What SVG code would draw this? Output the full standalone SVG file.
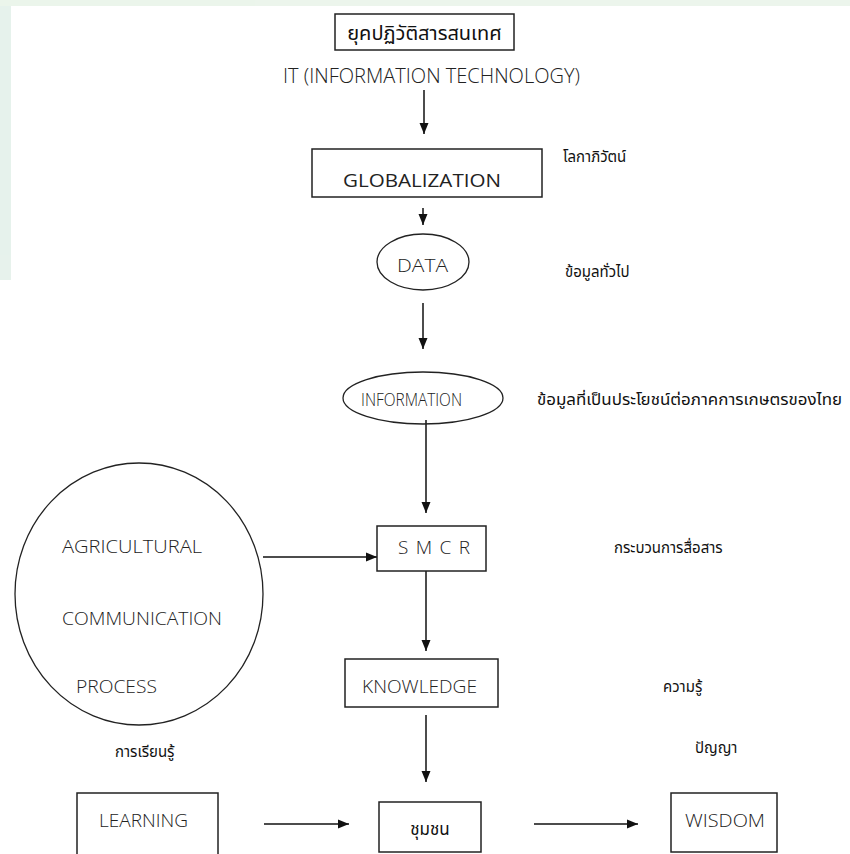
<svg xmlns="http://www.w3.org/2000/svg" width="850" height="854" viewBox="0 0 850 854">
<defs>
<style>
.bg{fill:#ffffff}
.box{fill:#ffffff;stroke:#222;stroke-width:1.5}
.ell{fill:none;stroke:#222;stroke-width:1.3}
.lat{font-family:"Open Sans","Noto Sans","DejaVu Sans",sans-serif;font-size:19px;font-weight:300;fill:#222}
.th{font-family:"Noto Sans Thai","Noto Sans","DejaVu Sans",sans-serif;font-size:15px;fill:#111}
.con{stroke:#111;stroke-width:1.5;fill:none;marker-end:url(#ah)}
</style>
<marker id="ah" markerUnits="userSpaceOnUse" markerWidth="12" markerHeight="12" viewBox="0 0 12 12" refX="11" refY="6" orient="auto">
<path d="M0,1.5 L11,6 L0,10.5 Z" fill="#111"/>
</marker>
</defs>
<rect class="bg" x="0" y="0" width="850" height="854"/>
<g id="watermark" opacity="0.5">
<rect x="0" y="0" width="11" height="280" fill="#cfe6da"/>
<rect x="0" y="0" width="850" height="6" fill="#d9ecd9"/>
</g>
<g id="connectors">
<line class="con" x1="424" y1="90" x2="424" y2="134"/>
<line class="con" x1="423" y1="208" x2="423" y2="225"/>
<line class="con" x1="423" y1="303" x2="423" y2="349"/>
<line class="con" x1="426" y1="420" x2="426" y2="513"/>
<line class="con" x1="263" y1="557" x2="377" y2="557"/>
<line class="con" x1="426" y1="571" x2="426" y2="651"/>
<line class="con" x1="426" y1="715" x2="426" y2="782"/>
<line class="con" x1="264" y1="824" x2="349" y2="824"/>
<line class="con" x1="534" y1="824" x2="638" y2="824"/>
</g>
<g id="era">
<rect class="box" x="335" y="14" width="179" height="36"/>
<text class="th" x="424.5" y="40" text-anchor="middle" style="font-size:20px">ยุคปฏิวัติสารสนเทศ</text>
</g>
<g id="it">
<text class="lat" x="283" y="83" textLength="297" lengthAdjust="spacingAndGlyphs" style="font-size:20px">IT (INFORMATION TECHNOLOGY)</text>
</g>
<g id="globalization">
<rect class="box" x="312" y="149" width="230" height="48"/>
<text class="lat" x="343" y="187" textLength="158" lengthAdjust="spacingAndGlyphs" style="font-weight:400">GLOBALIZATION</text>
</g>
<g id="globalization-th">
<text class="th" x="563" y="162">โลกาภิวัตน์</text>
</g>
<g id="data">
<ellipse class="ell" cx="423" cy="262" rx="46" ry="28"/>
<text class="lat" x="397" y="272" textLength="51" lengthAdjust="spacingAndGlyphs">DATA</text>
</g>
<g id="data-th">
<text class="th" x="565" y="277">ข้อมูลทั่วไป</text>
</g>
<g id="information">
<ellipse class="ell" cx="423" cy="398" rx="80" ry="26"/>
<text class="lat" x="361" y="406" textLength="101" lengthAdjust="spacingAndGlyphs">INFORMATION</text>
</g>
<g id="information-th">
<text class="th" x="537" y="405" textLength="305" lengthAdjust="spacingAndGlyphs">ข้อมูลที่เป็นประโยชน์ต่อภาคการเกษตรของไทย</text>
</g>
<g id="process">
<ellipse class="ell" cx="139" cy="594" rx="124" ry="131"/>
<text class="lat" x="62" y="553" textLength="140" lengthAdjust="spacingAndGlyphs">AGRICULTURAL</text>
<text class="lat" x="62" y="625" textLength="160" lengthAdjust="spacingAndGlyphs">COMMUNICATION</text>
<text class="lat" x="76" y="693" textLength="81" lengthAdjust="spacingAndGlyphs">PROCESS</text>
</g>
<g id="smcr">
<rect class="box" x="377" y="526" width="109" height="45"/>
<text class="lat" x="398" y="554" textLength="72" lengthAdjust="spacing">S M C R</text>
</g>
<g id="smcr-th">
<text class="th" x="614" y="553">กระบวนการสื่อสาร</text>
</g>
<g id="knowledge">
<rect class="box" x="345" y="659" width="153" height="48"/>
<text class="lat" x="362" y="693" textLength="115" lengthAdjust="spacingAndGlyphs">KNOWLEDGE</text>
</g>
<g id="knowledge-th">
<text class="th" x="663" y="692">ความรู้</text>
</g>
<g id="learning-th">
<text class="th" x="115" y="757">การเรียนรู้</text>
</g>
<g id="wisdom-th">
<text class="th" x="695" y="753">ปัญญา</text>
</g>
<g id="learning">
<rect class="box" x="77" y="793" width="141" height="70"/>
<text class="lat" x="99" y="827" textLength="89" lengthAdjust="spacingAndGlyphs">LEARNING</text>
</g>
<g id="community">
<rect class="box" x="379" y="802" width="102" height="50"/>
<text class="th" x="430" y="835" text-anchor="middle" style="font-size:17px">ชุมชน</text>
</g>
<g id="wisdom">
<rect class="box" x="671" y="793" width="106" height="59"/>
<text class="lat" x="685" y="827" textLength="80" lengthAdjust="spacingAndGlyphs">WISDOM</text>
</g>
</svg>
